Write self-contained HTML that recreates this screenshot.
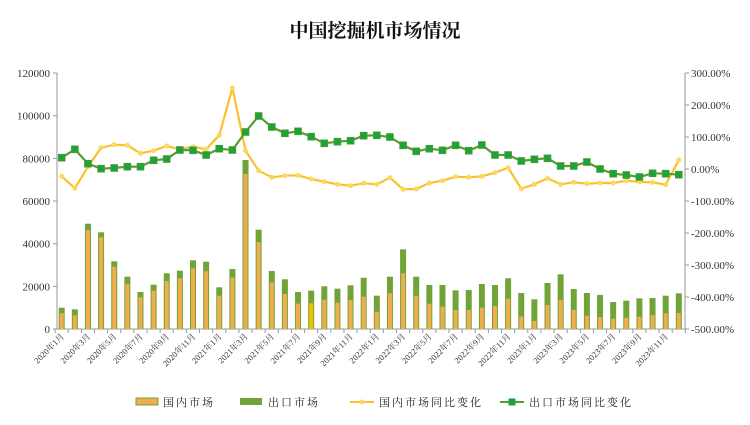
<!DOCTYPE html>
<html><head><meta charset="utf-8"><style>body{margin:0;background:#fff}svg{display:block}</style></head><body>
<svg width="750" height="425" xmlns="http://www.w3.org/2000/svg" font-family="'Liberation Serif','Noto Serif CJK SC',serif">
<text x="375" y="37" text-anchor="middle" font-size="19" font-weight="bold" fill="#111">中国挖掘机市场情况</text>
<g id="ax" stroke="#999" stroke-width="1" fill="none">
<line x1="57" y1="73" x2="57" y2="329"/><line x1="685" y1="73" x2="685" y2="329"/><line x1="57" y1="329" x2="685" y2="329"/>
</g>
<g id="main"></g>
<script>
var ns="http://www.w3.org/2000/svg",g=document.getElementById('main');
function el(t,a,txt){var e=document.createElementNS(ns,t);for(var k in a)e.setAttribute(k,a[k]);if(txt!=null)e.textContent=txt;g.appendChild(e);return e;}
var tot=[307.7,309.3,223.7,232.3,261.3,276.7,292,284.7,273.3,270.7,260.3,261.7,287.3,269,160,229.7,271,279.3,292,290.7,286.3,288.7,285.3,277.7,295.7,276.7,249.3,276.7,285,285,290.3,290,284,285,278.3,293,299.3,283,274.3,289,293,295,302,300.7,298.3,298,295.7,293.3];
var dom=[313.3,315.3,230,237.3,266.7,283.7,297.3,290.7,281,278.3,268.3,271.3,295.7,277.7,174,242,282.3,294,303.7,303.3,299.7,302.7,300,296.7,311.7,293.3,273.3,295.7,303.7,306.7,310,310,307.7,306,298.7,316.3,321,305,300,310,315.7,317,318.7,317.7,316.7,315,313.3,313];
var yl=[176.3,188.3,166.7,147.7,144.7,145.3,153.3,150.7,146,149.3,146.7,149.3,135.3,88,150.7,170.7,177.3,175.7,175.3,179,181.7,184.3,185.7,183.3,184.3,177.7,189.3,189,183,180.7,176.7,177.3,176.3,172.7,167.7,188.7,184.3,178.3,184.3,182.3,183.7,183,183,180.7,182,182.3,184.7,160];
var gl=[157.7,149.3,163.7,168.7,168,166.7,166.7,160.3,159,150,150.3,155,148.7,150,132,116,127,133.3,131.3,136.7,143.3,141.7,140.7,135.7,135.3,137,145.3,151.3,148.7,150.3,145.3,150.7,145,155,155,161,159.3,158.3,166,166,162,169,173.7,175,177,173.3,173.7,174.7];
function X(i){return 61.7+13.13*i;}
// ticks
for(var k=0;k<=6;k++){var y=73+k*42.667;el('line',{x1:53,y1:y,x2:57,y2:y,stroke:'#999'});el('text',{x:50,y:y+4,'text-anchor':'end','font-size':11,fill:'#333'},String(120000-k*20000));}
for(var k=0;k<=8;k++){var y=73+k*32;el('line',{x1:685,y1:y,x2:689,y2:y,stroke:'#999'});el('text',{x:691,y:y+4,'font-size':11,fill:'#333'},(300-k*100).toFixed(2)+'%');}
for(var i=0;i<=48;i++){var x=55.1+13.13*i;el('line',{x1:x,y1:329,x2:x,y2:333,stroke:'#999'});}
for(var i=0;i<48;i++){var x=X(i);
el('rect',{x:x-3,y:tot[i],width:6,height:329-tot[i],fill:'#70a338'});
el('rect',{x:x-2,y:dom[i],width:4,height:329-dom[i],fill:(i==19?'#f2c200':'#f0ad4e')});
if(i%2==0){var yr=2020+Math.floor(i/12),m=i%12+1;el('text',{x:x+3,y:337,'text-anchor':'end','font-size':8.5,fill:'#333',transform:'rotate(-45 '+(x+3)+' 337)'},yr+'年'+m+'月');}}
var p1='',p2='';for(var i=0;i<48;i++){p1+=(i?'L':'M')+X(i)+' '+yl[i];p2+=(i?'L':'M')+X(i)+' '+gl[i];}
el('path',{d:p1,fill:'none',stroke:'#fbc02d','stroke-width':2.2});
for(var i=0;i<48;i++)el('circle',{cx:X(i),cy:yl[i],r:2.5,fill:'#fdd85c'});
el('path',{d:p2,fill:'none',stroke:'#5a9a32','stroke-width':2.2});
for(var i=0;i<48;i++)el('rect',{x:X(i)-3.5,y:gl[i]-3.5,width:7,height:7,fill:'#1fa23a',stroke:'#5a9a32','stroke-width':0.6});
// legend
el('rect',{x:136,y:398,width:22,height:7,fill:'#f0ad4e',stroke:'#70a338'});
el('text',{x:163,y:406,'font-size':11,fill:'#222','letter-spacing':2},'国内市场');
el('rect',{x:240,y:398,width:22,height:7,fill:'#70a338'});
el('text',{x:268,y:406,'font-size':11,fill:'#222','letter-spacing':2},'出口市场');
el('line',{x1:350,y1:402,x2:374,y2:402,stroke:'#fbc02d','stroke-width':2});el('circle',{cx:362,cy:402,r:2.5,fill:'#fdd85c'});
el('text',{x:379,y:406,'font-size':11,fill:'#222','letter-spacing':2},'国内市场同比变化');
el('line',{x1:500,y1:402,x2:524,y2:402,stroke:'#5a9a32','stroke-width':2});el('rect',{x:508.5,y:398.5,width:7,height:7,fill:'#1fa23a'});
el('text',{x:529,y:406,'font-size':11,fill:'#222','letter-spacing':2},'出口市场同比变化');
</script>
</svg>
</body></html>
